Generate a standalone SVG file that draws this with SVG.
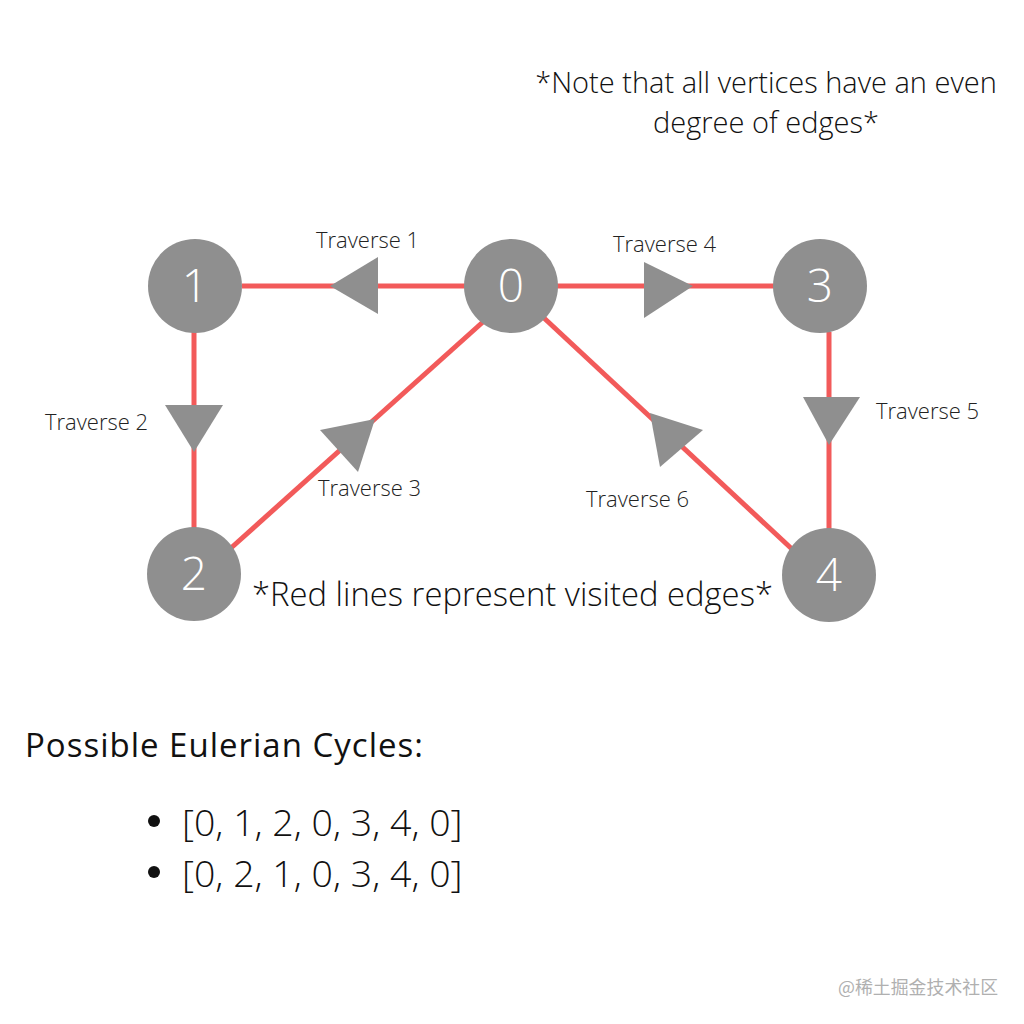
<svg xmlns="http://www.w3.org/2000/svg" width="1024" height="1024" viewBox="0 0 1024 1024">
<style>
.edge{stroke:#f25a5a;stroke-width:5;fill:none}
.arrow{fill:#8f8f8f}
.node circle{fill:#8f8f8f}
.node text{fill:#ffffff;font-family:"Open Sans","Liberation Sans",sans-serif;font-weight:300;font-size:46px;text-anchor:middle}
.lbl{fill:#222;font-family:"Open Sans","Liberation Sans",sans-serif;font-weight:300;font-size:22px}
.big{fill:#111;font-family:"Open Sans","Liberation Sans",sans-serif;font-weight:300}
</style>
<rect width="1024" height="1024" fill="#ffffff"/>
<g id="connectors">
<line class="edge" x1="242" y1="286" x2="466" y2="286"/>
<line class="edge" x1="557" y1="286" x2="774" y2="286"/>
<line class="edge" x1="194" y1="332" x2="194" y2="528"/>
<line class="edge" x1="829" y1="332" x2="829" y2="530"/>
<line class="edge" x1="231" y1="548" x2="484" y2="321"/>
<line class="edge" x1="544" y1="318" x2="793" y2="550"/>
<polygon class="arrow" points="330,286 378,257 378,314"/>
<polygon class="arrow" points="693,286 644,262 644,318"/>
<polygon class="arrow" points="194,452 165,405 223,405"/>
<polygon class="arrow" points="829,445 803,397 860,397"/>
<polygon class="arrow" points="375,419 320,430 358,472"/>
<polygon class="arrow" points="650,413 703,430 660,467"/>
</g>
<g id="node0" class="node"><circle cx="511" cy="286" r="47"/><text x="511" y="302">0</text></g>
<g id="node1" class="node"><circle cx="195" cy="286" r="47"/><text x="195" y="302">1</text></g>
<g id="node2" class="node"><circle cx="194" cy="574" r="47"/><text x="194" y="590">2</text></g>
<g id="node3" class="node"><circle cx="820" cy="286" r="47"/><text x="820" y="302">3</text></g>
<g id="node4" class="node"><circle cx="829" cy="575" r="47"/><text x="829" y="591">4</text></g>
<g id="labels">
<text class="lbl" x="316" y="248">Traverse 1</text>
<text class="lbl" x="45" y="430">Traverse 2</text>
<text class="lbl" x="318" y="496">Traverse 3</text>
<text class="lbl" x="613" y="252">Traverse 4</text>
<text class="lbl" x="876" y="419">Traverse 5</text>
<text class="lbl" x="586" y="507">Traverse 6</text>
<text class="big" x="766" y="93" font-size="29" text-anchor="middle">*Note that all vertices have an even</text>
<text class="big" x="766" y="133" font-size="29" text-anchor="middle">degree of edges*</text>
<text class="big" x="252" y="606" font-size="32.8">*Red lines represent visited edges*</text>
<text x="25" y="757" font-size="33" letter-spacing="1" fill="#111" font-family="'Open Sans','Liberation Sans',sans-serif">Possible Eulerian Cycles:</text>
<circle cx="154" cy="821" r="6" fill="#111"/>
<circle cx="154" cy="872" r="6" fill="#111"/>
<text class="big" x="182" y="836" font-size="37.5">[0, 1, 2, 0, 3, 4, 0]</text>
<text class="big" x="182" y="887" font-size="37.5">[0, 2, 1, 0, 3, 4, 0]</text>
<text x="838" y="994" font-size="17.9" fill="#b0b0b0" font-family="'Noto Sans CJK SC',sans-serif">@稀土掘金技术社区</text>
</g>
</svg>
